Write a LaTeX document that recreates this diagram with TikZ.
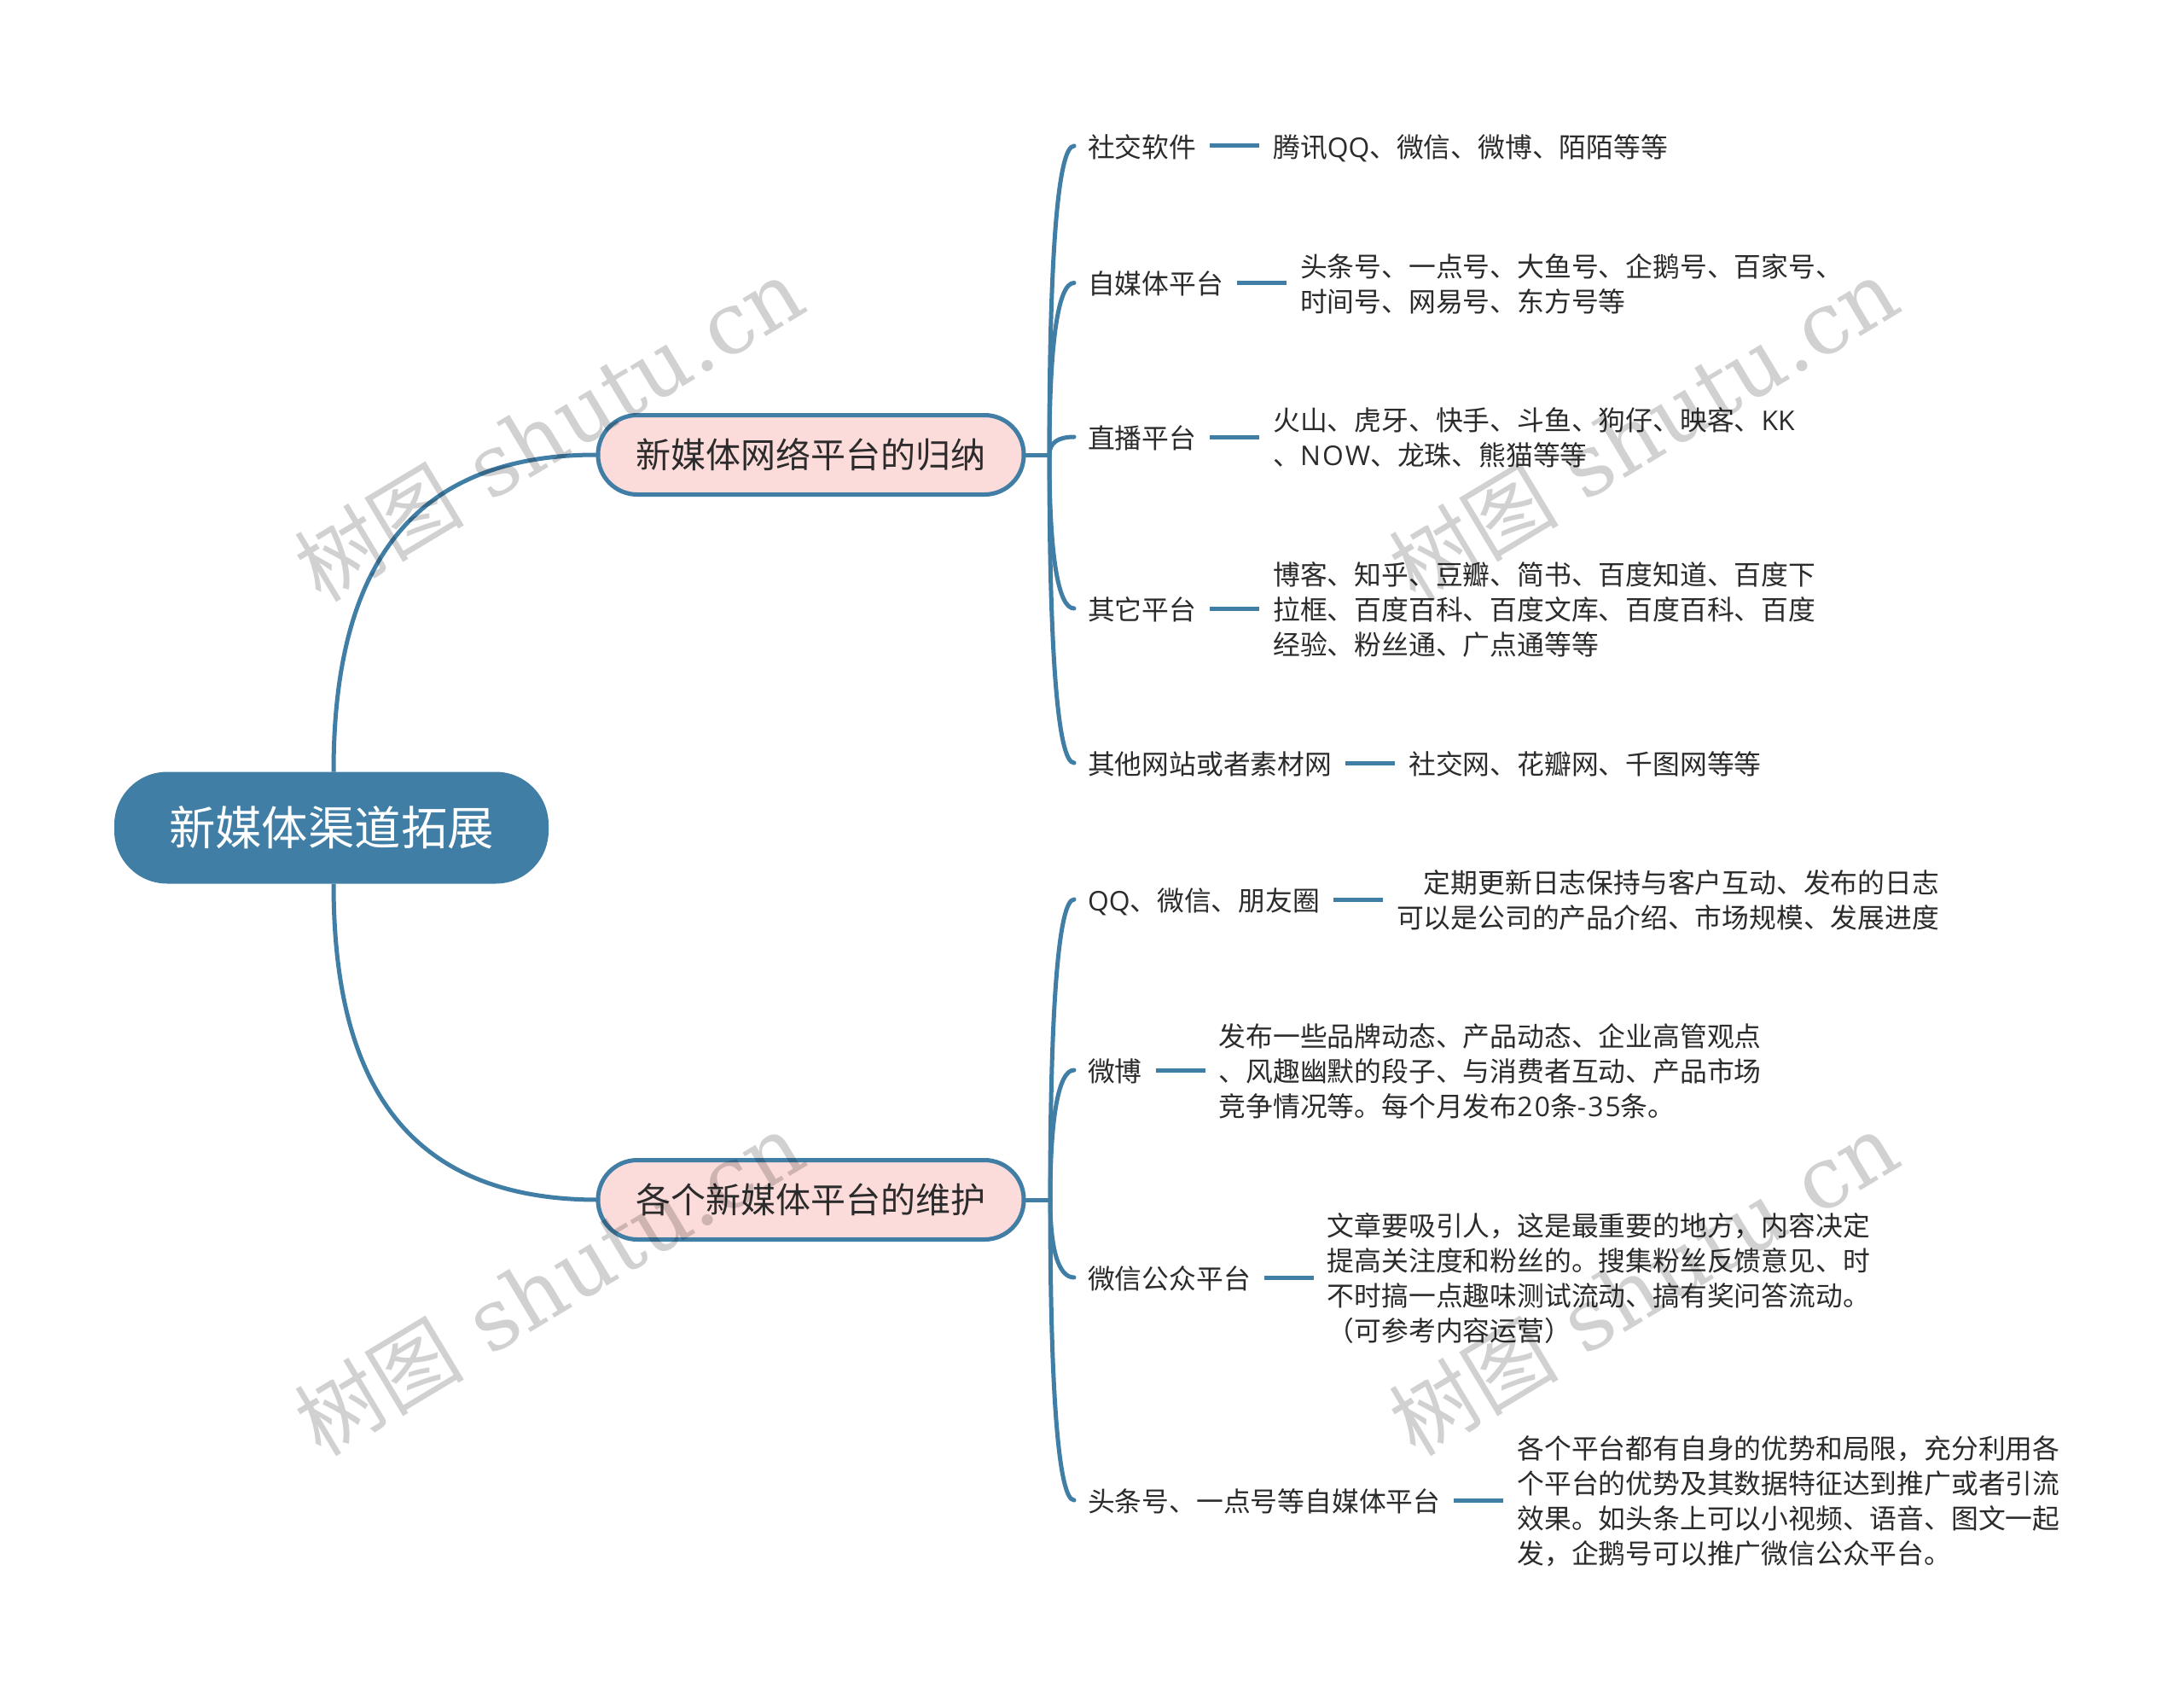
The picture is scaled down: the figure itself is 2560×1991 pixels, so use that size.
\documentclass[tikz,border=0pt]{standalone}
\usepackage{fontspec}
\setmainfont{Noto Sans CJK SC}
\newfontfamily\wmserif{DejaVu Serif}
\newfontfamily\latfont{Open Sans}
\newfontfamily\latwide[LetterSpace=7]{Open Sans}
\definecolor{mapblue}{HTML}{407EA6}
\definecolor{mappink}{HTML}{FCDBDB}
\definecolor{mapink}{HTML}{2B2B2B}
\newcommand{\wmktext}{{\fontsize{100}{110}\selectfont 树图}{\wmserif\fontsize{100}{110}\selectfont\ shutu.cn}}
\newcommand{\mstrut}{\rule[-7.3pt]{0pt}{41pt}}
\tikzset{
  rootbox/.style={draw=none,fill=mapblue,rounded corners=62pt,minimum width=509pt,minimum height=131pt,inner sep=0pt,outer sep=0pt,text=white,font=\fontsize{54.4}{60}\selectfont},
  branchbox/.style={draw=mapblue,line width=5pt,fill=mappink,rounded corners=46pt,minimum width=499pt,minimum height=93pt,inner sep=0pt,outer sep=0pt,text=mapink,font=\fontsize{41}{50}\selectfont},
  childtext/.style={anchor=west,inner xsep=16pt,inner ysep=0pt,outer sep=0pt,text=mapink,font=\fontsize{31.8}{41}\selectfont},
  detailtext/.style={anchor=west,align=left,inner xsep=16pt,inner ysep=0pt,outer sep=0pt,text=mapink,font=\fontsize{31.8}{41}\selectfont},
  bigcurve/.style={draw=mapblue,line width=5pt},
  bracket/.style={draw=mapblue,line width=5pt,line cap=round},
  dashlink/.style={draw=mapblue,line width=5pt},
  watermark/.style={rotate=31,anchor=base west,inner sep=0pt,text=black,text opacity=0.18}
}
\begin{document}
\begin{tikzpicture}[x=1pt,y=-1pt]
\useasboundingbox[fill=white] (0,0) rectangle (2560,1991);

\node[rootbox] (root) at (388.5,970) {新媒体渠道拓展};
\node[branchbox] (b1) at (950.5,533) {新媒体网络平台的归纳};
\node[branchbox] (b2) at (950.5,1406) {各个新媒体平台的维护};

\coordinate (t1) at (1230,533);
\coordinate (t2) at (1231,1406);

% first group
\node[childtext] (c11) at (1259,171) {\mstrut 社交软件};
\node[detailtext] (d11) at ([xshift=58pt]c11.east) {\mstrut 腾讯{\latfont QQ}、微信、微博、陌陌等等};
\node[childtext] (c12) at (1259,331.5) {\mstrut 自媒体平台};
\node[detailtext] (d12) at ([xshift=58pt]c12.east) {\mstrut 头条号、一点号、大鱼号、企鹅号、百家号、\\\mstrut 时间号、网易号、东方号等};
\node[childtext] (c13) at (1259,512) {\mstrut 直播平台};
\node[detailtext] (d13) at ([xshift=58pt]c13.east) {\mstrut 火山、虎牙、快手、斗鱼、狗仔、映客、{\latfont KK}\\\mstrut 、{\latwide NOW}、龙珠、熊猫等等};
\node[childtext] (c14) at (1259,713) {\mstrut 其它平台};
\node[detailtext] (d14) at ([xshift=58pt]c14.east) {\mstrut 博客、知乎、豆瓣、简书、百度知道、百度下\\\mstrut 拉框、百度百科、百度文库、百度百科、百度\\\mstrut 经验、粉丝通、广点通等等};
\node[childtext] (c15) at (1259,894) {\mstrut 其他网站或者素材网};
\node[detailtext] (d15) at ([xshift=58pt]c15.east) {\mstrut 社交网、花瓣网、千图网等等};

% second group
\node[childtext] (c21) at (1259,1054) {\mstrut {\latfont QQ}、微信、朋友圈};
\node[detailtext,align=right] (d21) at ([xshift=58pt]c21.east) {\mstrut 定期更新日志保持与客户互动、发布的日志\\\mstrut 可以是公司的产品介绍、市场规模、发展进度};
\node[childtext] (c22) at (1259,1254) {\mstrut 微博};
\node[detailtext] (d22) at ([xshift=58pt]c22.east) {\mstrut 发布一些品牌动态、产品动态、企业高管观点\\\mstrut 、风趣幽默的段子、与消费者互动、产品市场\\\mstrut 竞争情况等。每个月发布{\latwide 20}条{\latwide -35}条。};
\node[childtext] (c23) at (1259,1497) {\mstrut 微信公众平台};
\node[detailtext] (d23) at ([xshift=58pt]c23.east) {\mstrut 文章要吸引人，这是最重要的地方，内容决定\\\mstrut 提高关注度和粉丝的。搜集粉丝反馈意见、时\\\mstrut 不时搞一点趣味测试流动、搞有奖问答流动。\\\mstrut （可参考内容运营）};
\node[childtext] (c24) at (1259,1758) {\mstrut 头条号、一点号等自媒体平台};
\node[detailtext] (d24) at ([xshift=58pt]c24.east) {\mstrut 各个平台都有自身的优势和局限，充分利用各\\\mstrut 个平台的优势及其数据特征达到推广或者引流\\\mstrut 效果。如头条上可以小视频、语音、图文一起\\\mstrut 发，企鹅号可以推广微信公众平台。};

% root to branches
\draw[bigcurve] ([xshift=2.5pt]root.north) .. controls (391,680) and (470,532) .. (b1.west);
\draw[bigcurve] ([xshift=2.5pt]root.south) .. controls (391,1260) and (470,1406) .. (b2.west);

% brackets
\draw[bracket] (b1.east) -- (t1);
\draw[bracket] (t1) .. controls (1230,300) and (1240,171) .. (c11.west);
\draw[bracket] (t1) .. controls (1230,403) and (1240,331.5) .. (c12.west);
\draw[bracket] (t1) .. controls (1230,519) and (1240,512) .. (c13.west);
\draw[bracket] (t1) .. controls (1230,649) and (1240,713) .. (c14.west);
\draw[bracket] (t1) .. controls (1230,766) and (1240,894) .. (c15.west);
\draw[bracket] (b2.east) -- (t2);
\draw[bracket] (t2) .. controls (1231,1179) and (1241,1054) .. (c21.west);
\draw[bracket] (t2) .. controls (1231,1308) and (1241,1254) .. (c22.west);
\draw[bracket] (t2) .. controls (1231,1465) and (1241,1497) .. (c23.west);
\draw[bracket] (t2) .. controls (1231,1633) and (1241,1758) .. (c24.west);

% dashes
\draw[dashlink] (c11.east) -- (d11.west);
\draw[dashlink] (c12.east) -- (d12.west);
\draw[dashlink] (c13.east) -- (d13.west);
\draw[dashlink] (c14.east) -- (d14.west);
\draw[dashlink] (c15.east) -- (d15.west);
\draw[dashlink] (c21.east) -- (d21.west);
\draw[dashlink] (c22.east) -- (d22.west);
\draw[dashlink] (c23.east) -- (d23.west);
\draw[dashlink] (c24.east) -- (d24.west);

% watermarks
\node[watermark] (w1) at (376,708) {\wmktext};
\node[watermark] (w2) at (1659,708) {\wmktext};
\node[watermark] (w3) at (376,1709) {\wmktext};
\node[watermark] (w4) at (1659,1709) {\wmktext};
\end{tikzpicture}
\end{document}
